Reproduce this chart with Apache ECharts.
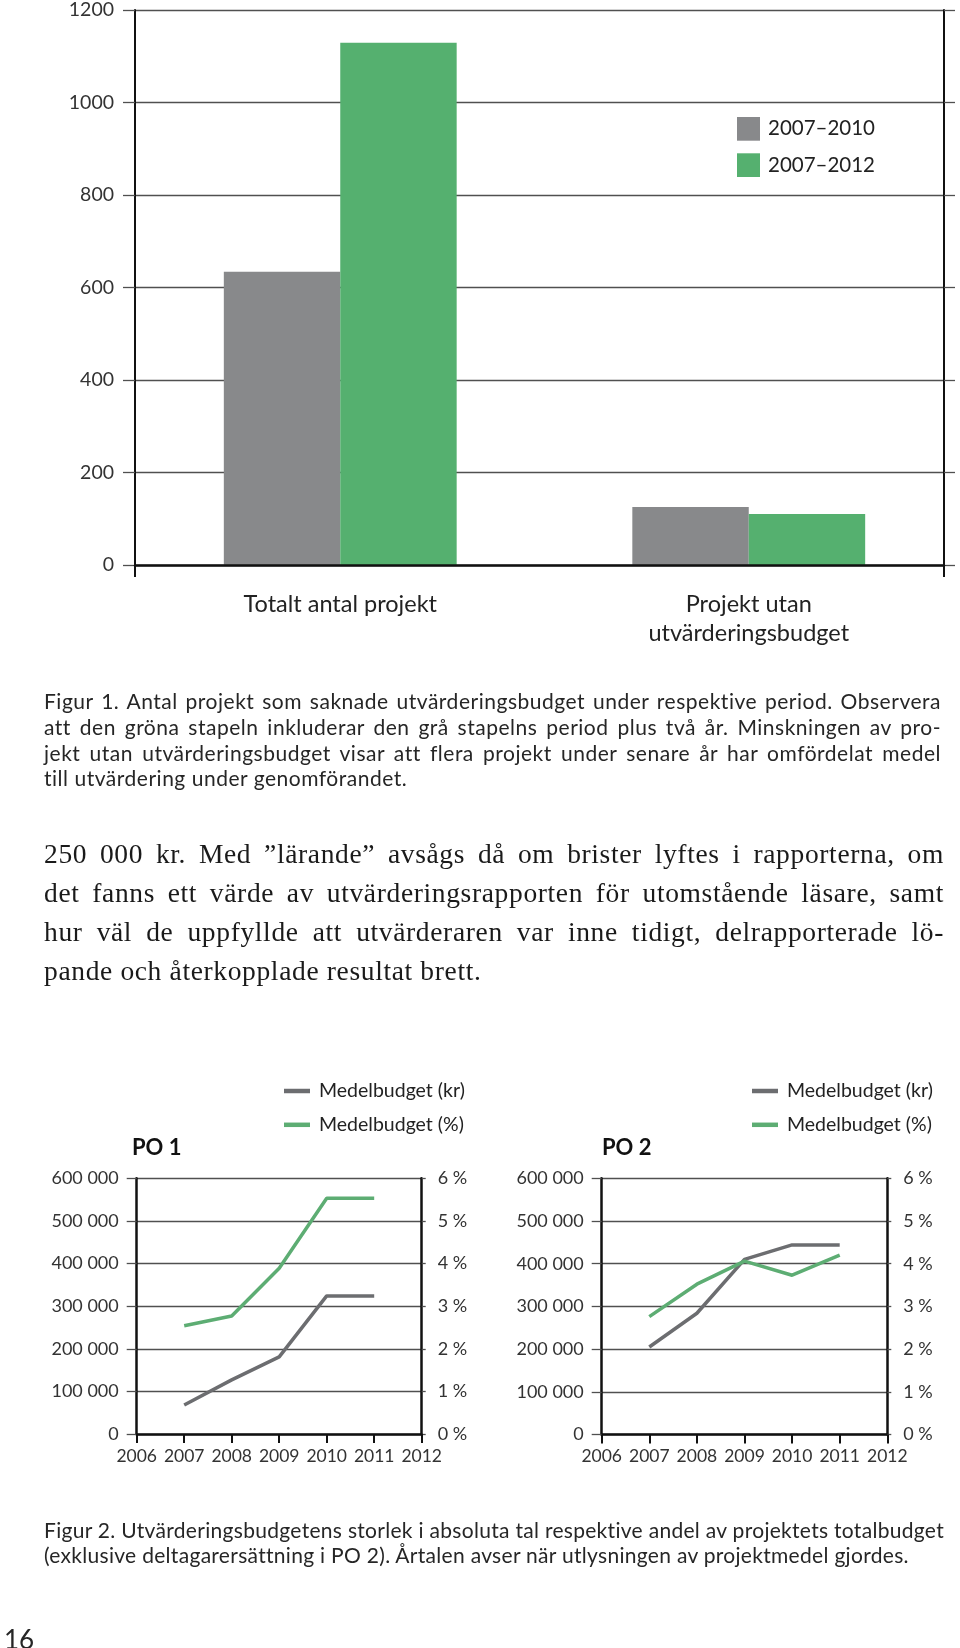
<!DOCTYPE html>
<html>
<head>
<meta charset="utf-8">
<script src="https://cdn.jsdelivr.net/npm/echarts@6/dist/echarts.min.js"></script>
<style>
html,body{margin:0;padding:0;background:#fff;}
#chart{position:absolute;left:0;top:0;width:960px;height:1648px;}
.ln{position:absolute;left:44px;white-space:nowrap;display:inline-block;font-variant-ligatures:none;}
.sans{font-family:Lato,"Open Sans",sans-serif;font-size:21px;line-height:1.2;color:#262626;}
.serif{font-family:"Liberation Serif","DejaVu Serif",serif;font-size:27.5px;line-height:1.107;color:#1a1a1a;}
</style>
</head>
<body>
<div id="chart"></div>

<span class="ln sans g1" data-j="1" style="top:687.6px">Figur 1. Antal projekt som saknade utvärderingsbudget under respektive period. Observera</span>
<span class="ln sans g1" data-j="1" style="top:713.6px">att den gröna stapeln inkluderar den grå stapelns period plus två år. Minskningen av pro-</span>
<span class="ln sans g1" data-j="1" style="top:740.3px">jekt utan utvärderingsbudget visar att flera projekt under senare år har omfördelat medel</span>
<span class="ln sans g1" style="top:765.3px">till utvärdering under genomförandet.</span>

<span class="ln serif g2" data-j="1" style="top:838.8px">250 000 kr. Med ”lärande” avsågs då om brister lyftes i rapporterna, om</span>
<span class="ln serif g2" data-j="1" style="top:877.7px">det fanns ett värde av utvärderingsrapporten för utomstående läsare, samt</span>
<span class="ln serif g2" data-j="1" style="top:916.6px">hur väl de uppfyllde att utvärderaren var inne tidigt, delrapporterade lö-</span>
<span class="ln serif g2" style="top:955.5px">pande och återkopplade resultat brett.</span>

<span class="ln sans g3" data-j="1" style="top:1516.6px">Figur 2. Utvärderingsbudgetens storlek i absoluta tal respektive andel av projektets totalbudget</span>
<span class="ln sans g3" style="top:1541.6px">(exklusive deltagarersättning i PO 2). Årtalen avser när utlysningen av projektmedel gjordes.</span>

<span class="ln sans" style="top:1624px;left:4px;font-size:26px;">16</span>

<script>
// ---- Figur 1 data ----
const barCategories = ['Totalt antal projekt', 'Projekt utan\nutvärderingsbudget'];
const bars2007_2010 = [633, 125];
const bars2007_2012 = [1127, 110];
const barSeriesNames = ['2007–2010', '2007–2012'];
const barTickLabels = ['0', '200', '400', '600', '800', '1000', '1200'];

// ---- Figur 2 data ----
const years = ['2006', '2007', '2008', '2009', '2010', '2011', '2012'];
const po1Kr  = [null, 68000, 127000, 181000, 324000, 324000, null];
const po1Pct = [null, 2.54, 2.77, 3.89, 5.53, 5.53, null];
const po2Kr  = [null, 205000, 284000, 410000, 444000, 444000, null];
const po2Pct = [null, 2.76, 3.52, 4.06, 3.73, 4.20, null];
const krTickLabels  = ['0', '100 000', '200 000', '300 000', '400 000', '500 000', '600 000'];
const pctTickLabels = ['0 %', '1 %', '2 %', '3 %', '4 %', '5 %', '6 %'];
const lineSeriesNames = ['Medelbudget (kr)', 'Medelbudget (%)'];

const GRAY_BAR = '#88898b', GREEN_BAR = '#55b06f';
const GRAY_LINE = '#6c6d70', GREEN_LINE = '#5dad73';
const FONT = 'Lato';
const GRIDC = '#505050';

// fit paragraph lines: part of the gap as letter-spacing, rest as word-spacing
function fitGroup(cls, W, share) {
  const els = Array.from(document.querySelectorAll('.' + cls));
  const just = els.filter(e => e.dataset.j);
  let ls = Infinity;
  just.forEach(e => {
    const nat = e.getBoundingClientRect().width;
    const n = e.textContent.length;
    ls = Math.min(ls, (W - nat) / n);
  });
  ls = Math.max(0, ls * share);
  els.forEach(e => { e.style.letterSpacing = ls + 'px'; });
  just.forEach(e => {
    const nat = e.getBoundingClientRect().width;
    const spaces = (e.textContent.match(/ /g) || []).length;
    if (spaces) e.style.wordSpacing = ((W - nat) / spaces) + 'px';
  });
}
fitGroup('g1', 897, 0.7);
fitGroup('g2', 900, 0.5);
fitGroup('g3', 900, 1.0);

const chart = echarts.init(document.getElementById('chart'), null, {renderer: 'canvas'});

function lineYLeft(grid) {
  return {
    type: 'value', gridIndex: grid, position: 'left', min: 0, max: 600000, interval: 100000,
    axisLine: {show: true, lineStyle: {color: '#111', width: 2.5}},
    axisTick: {show: true, inside: false, length: 10, lineStyle: {color: GRIDC, width: 1.3}},
    splitLine: {show: true, lineStyle: {color: GRIDC, width: 1.3}},
    axisLabel: {fontFamily: FONT, fontSize: 18, color: '#333', margin: 18,
      formatter: v => krTickLabels[Math.round(v / 100000)]}
  };
}
function lineYRight(grid) {
  return {
    type: 'value', gridIndex: grid, position: 'right', min: 0, max: 6, interval: 1,
    axisLine: {show: true, lineStyle: {color: '#111', width: 2.5}},
    axisTick: {show: true, inside: false, length: 4, lineStyle: {color: GRIDC, width: 1.3}},
    splitLine: {show: false},
    axisLabel: {fontFamily: FONT, fontSize: 18, color: '#333', margin: 16,
      formatter: v => pctTickLabels[Math.round(v)]}
  };
}
function lineX(grid) {
  return {
    type: 'category', gridIndex: grid, data: years, boundaryGap: false,
    axisLine: {show: true, lineStyle: {color: '#111', width: 2.5}},
    axisTick: {show: true, interval: 0, length: 9, lineStyle: {color: '#111', width: 2}},
    axisLabel: {interval: 0, fontFamily: FONT, fontSize: 17.5, color: '#333', margin: 13},
    splitLine: {show: false}
  };
}
function lineLegend(left) {
  return {
    data: lineSeriesNames, orient: 'vertical', left: left, top: 1080, padding: 0,
    icon: 'rect', itemWidth: 26, itemHeight: 4.5, itemGap: 11.8,
    textStyle: {fontFamily: FONT, fontSize: 19.5, color: '#222', lineHeight: 22, padding: [0, 0, 0, 4]},
    selectedMode: false
  };
}

const option = {
  animation: false,
  backgroundColor: '#fff',
  title: [
    {text: 'PO 1', left: 132, top: 1137, padding: 0,
      textStyle: {fontFamily: FONT, fontSize: 22, fontWeight: 'bold', color: '#111'}},
    {text: 'PO 2', left: 602, top: 1137, padding: 0,
      textStyle: {fontFamily: FONT, fontSize: 22, fontWeight: 'bold', color: '#111'}}
  ],
  legend: [
    {data: barSeriesNames, orient: 'vertical', left: 737, top: 117, padding: 0,
      icon: 'rect', itemWidth: 23, itemHeight: 23.7, itemGap: 12.6,
      textStyle: {fontFamily: FONT, fontSize: 20.5, color: '#222', padding: [0, 0, 0, 3]},
      selectedMode: false},
    lineLegend(284),
    lineLegend(752)
  ],
  grid: [
    {left: 135, right: 16, top: 9, bottom: 1083},          // frame of Figur 1
    {left: 136, right: 7, top: 9, bottom: 1083},           // bars of Figur 1
    {left: 136.7, right: 538.3, top: 1178.3, bottom: 214},  // PO 1
    {left: 601.7, right: 72.7, top: 1178.3, bottom: 213.5}  // PO 2
  ],
  xAxis: [
    {type: 'category', gridIndex: 0, data: barCategories, z: 5,
      axisLine: {show: true, lineStyle: {color: '#111', width: 2.5}},
      axisTick: {show: true, interval: (i) => i === 0, length: 12, lineStyle: {color: '#111', width: 2}},
      axisLabel: {show: false}},
    {type: 'category', gridIndex: 1, data: barCategories,
      axisLine: {show: false}, axisTick: {show: false},
      axisLabel: {fontFamily: FONT, fontSize: 23.5, color: '#222', lineHeight: 29, margin: 25}},
    lineX(2),
    lineX(3)
  ],
  yAxis: [
    {type: 'value', gridIndex: 0, position: 'left', min: 0, max: 1200, interval: 200,
      axisLine: {show: true, lineStyle: {color: '#111', width: 2}},
      axisTick: {show: true, inside: false, length: 12, lineStyle: {color: GRIDC, width: 1.3}},
      splitLine: {show: true, lineStyle: {color: GRIDC, width: 1.3}},
      axisLabel: {fontFamily: FONT, fontSize: 19.5, color: '#333', margin: 21,
        formatter: v => barTickLabels[Math.round(v / 200)]}},
    {type: 'value', gridIndex: 0, position: 'right', min: 0, max: 1200, interval: 200,
      axisLine: {show: true, lineStyle: {color: '#111', width: 2}},
      axisTick: {show: true, inside: false, length: 11, lineStyle: {color: GRIDC, width: 1.3}},
      splitLine: {show: false}, axisLabel: {show: false}},
    {type: 'value', gridIndex: 1, min: 0, max: 1200, show: false},
    lineYLeft(2), lineYRight(2),
    lineYLeft(3), lineYRight(3)
  ],
  series: [
    {name: barSeriesNames[0], type: 'bar', xAxisIndex: 1, yAxisIndex: 2, data: bars2007_2010,
      itemStyle: {color: GRAY_BAR}, barGap: '0%', barCategoryGap: '43%'},
    {name: barSeriesNames[1], type: 'bar', xAxisIndex: 1, yAxisIndex: 2, data: bars2007_2012,
      itemStyle: {color: GREEN_BAR}, barGap: '0%', barCategoryGap: '43%'},

    {name: lineSeriesNames[0], type: 'line', xAxisIndex: 2, yAxisIndex: 3, data: po1Kr,
      symbol: 'none', lineStyle: {color: GRAY_LINE, width: 3.5}, itemStyle: {color: GRAY_LINE}},
    {name: lineSeriesNames[1], type: 'line', xAxisIndex: 2, yAxisIndex: 4, data: po1Pct,
      symbol: 'none', lineStyle: {color: GREEN_LINE, width: 3.5}, itemStyle: {color: GREEN_LINE}},
    {name: lineSeriesNames[0], type: 'line', xAxisIndex: 3, yAxisIndex: 5, data: po2Kr,
      symbol: 'none', lineStyle: {color: GRAY_LINE, width: 3.5}, itemStyle: {color: GRAY_LINE}},
    {name: lineSeriesNames[1], type: 'line', xAxisIndex: 3, yAxisIndex: 6, data: po2Pct,
      symbol: 'none', lineStyle: {color: GREEN_LINE, width: 3.5}, itemStyle: {color: GREEN_LINE}}
  ]
};
chart.setOption(option);
</script>
</body>
</html>
